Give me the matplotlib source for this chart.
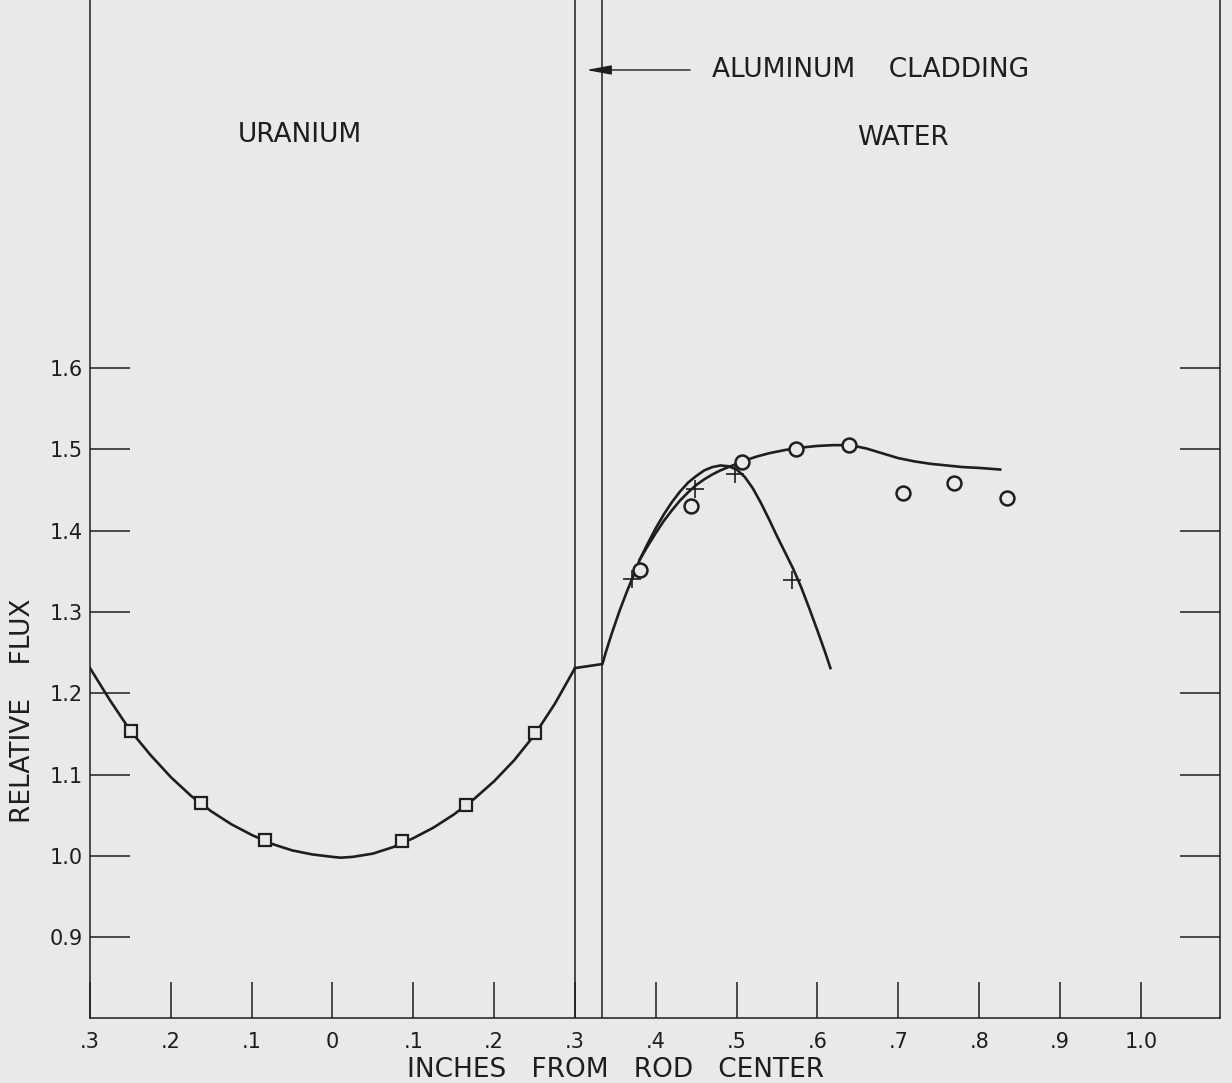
import matplotlib
matplotlib.use('Agg')
import matplotlib.pyplot as plt
import numpy as np

# ---- values ----
# uranium region curve (x in inches, negative = other side of center)
uran_x = [-0.300, -0.275, -0.250, -0.225, -0.200, -0.175, -0.150, -0.125, -0.100,
          -0.075, -0.050, -0.025, 0.000, 0.010, 0.025, 0.050, 0.075, 0.100,
          0.125, 0.150, 0.175, 0.200, 0.225, 0.250, 0.275, 0.300]
uran_y = [1.231, 1.191, 1.154, 1.124, 1.097, 1.074, 1.055, 1.039, 1.026,
          1.015, 1.007, 1.002, 0.999, 0.998, 0.999, 1.003, 1.011, 1.022,
          1.035, 1.051, 1.070, 1.092, 1.118, 1.149, 1.187, 1.231]

# across the aluminum cladding and start of water (shared by both curves)
clad_x = [0.300, 0.334, 0.338, 0.345, 0.355, 0.365, 0.373, 0.380]
clad_y = [1.231, 1.236, 1.250, 1.272, 1.301, 1.327, 1.346, 1.364]

# curve drawn through the crosses
cross_curve_x = [0.390, 0.400, 0.410, 0.420, 0.430, 0.440, 0.450, 0.460, 0.470,
                 0.480, 0.490, 0.500, 0.510, 0.520, 0.530, 0.540, 0.550, 0.560,
                 0.570, 0.580, 0.590, 0.600, 0.610, 0.616]
cross_curve_y = [1.384, 1.403, 1.420, 1.435, 1.448, 1.459, 1.467, 1.474, 1.478,
                 1.480, 1.479, 1.475, 1.466, 1.452, 1.434, 1.414, 1.393, 1.373,
                 1.353, 1.330, 1.304, 1.277, 1.249, 1.231]

# curve drawn through the circles
circ_curve_x = [0.390, 0.400, 0.410, 0.420, 0.430, 0.440, 0.450, 0.460, 0.470,
                0.480, 0.490, 0.500, 0.510, 0.525, 0.540, 0.560, 0.580, 0.600,
                0.620, 0.640, 0.660, 0.680, 0.700, 0.720, 0.740, 0.760, 0.780,
                0.800, 0.826]
circ_curve_y = [1.381, 1.397, 1.412, 1.425, 1.437, 1.447, 1.456, 1.463, 1.469,
                1.474, 1.478, 1.482, 1.486, 1.491, 1.495, 1.499, 1.502, 1.504,
                1.505, 1.505, 1.501, 1.495, 1.489, 1.485, 1.482, 1.480, 1.478,
                1.477, 1.475]

square_x = [-0.249, -0.163, -0.083, 0.086, 0.165, 0.251]
square_y = [1.154, 1.065, 1.020, 1.018, 1.063, 1.151]

cross_x = [0.371, 0.448, 0.498, 0.569]
cross_y = [1.340, 1.451, 1.470, 1.339]

circle_x = [0.380, 0.443, 0.507, 0.573, 0.639, 0.706, 0.769, 0.835]
circle_y = [1.351, 1.430, 1.484, 1.500, 1.505, 1.446, 1.459, 1.440]

xticks = [-0.3, -0.2, -0.1, 0.0, 0.1, 0.2, 0.3, 0.4, 0.5, 0.6, 0.7, 0.8, 0.9, 1.0]
xticklabels = ['.3', '.2', '.1', '0', '.1', '.2', '.3', '.4', '.5', '.6', '.7', '.8', '.9', '1.0']
yticks = [0.9, 1.0, 1.1, 1.2, 1.3, 1.4, 1.5, 1.6]
yticklabels = ['0.9', '1.0', '1.1', '1.2', '1.3', '1.4', '1.5', '1.6']

clad_edges = [0.300, 0.334]

bg = '#e9e9e9'
ink = '#1e1e1e'

fig = plt.figure(figsize=(12.32, 10.83), dpi=100, facecolor=bg)
ax = fig.add_axes([90 / 1232, 65 / 1083, 1130 / 1232, 1018 / 1083])
ax.set_facecolor(bg)

ax.plot(uran_x, uran_y, color=ink, lw=1.9)
ax.plot(clad_x + cross_curve_x, clad_y + cross_curve_y, color=ink, lw=1.9)
ax.plot(clad_x[-1:] + circ_curve_x, clad_y[-1:] + circ_curve_y, color=ink, lw=1.9)

ax.plot(square_x, square_y, 's', ms=8.5, mfc=bg, mec=ink, mew=1.6)
ax.plot(circle_x, circle_y, 'o', ms=10, mfc=bg, mec=ink, mew=1.8)
ax.plot(cross_x, cross_y, '+', ms=13, mec=ink, mew=1.2)

for xe in clad_edges:
    ax.axvline(xe, color=ink, lw=1.1)

ax.set_xlim(-0.3, 1.098)
ax.set_ylim(0.801, 2.052)

ax.spines['top'].set_visible(False)
for s in ['left', 'right', 'bottom']:
    ax.spines[s].set_color(ink)
    ax.spines[s].set_linewidth(1.1)

ax.set_xticks(xticks)
ax.set_xticklabels(xticklabels)
ax.set_yticks(yticks)
ax.set_yticklabels(yticklabels)
ax.tick_params(axis='x', direction='in', length=26, width=1.1, color=ink,
               labelsize=15, pad=10, labelcolor=ink)
ax.tick_params(axis='y', direction='in', length=29, width=1.1, color=ink,
               labelsize=15, pad=5, labelcolor=ink, right=True)

ax.set_xlabel('INCHES   FROM   ROD   CENTER', fontsize=19, color=ink)
ax.xaxis.set_label_coords(0.465, -0.038)
ax.set_ylabel('RELATIVE    FLUX', fontsize=19, color=ink)
ax.yaxis.set_label_coords(-0.048, 0.302)

ax.text(-0.04, 1.886, 'URANIUM', fontsize=19, color=ink, ha='center', va='center')
ax.text(0.706, 1.883, 'WATER', fontsize=19, color=ink, ha='center', va='center')
ax.annotate('ALUMINUM    CLADDING', xy=(0.314, 1.966), xytext=(0.470, 1.966),
            fontsize=19, color=ink, ha='left', va='center',
            arrowprops=dict(arrowstyle='-|>,head_length=0.8,head_width=0.15',
                            color=ink, lw=1.0, shrinkA=14, shrinkB=0))

fig.savefig('out.png', dpi=100, facecolor=bg)
